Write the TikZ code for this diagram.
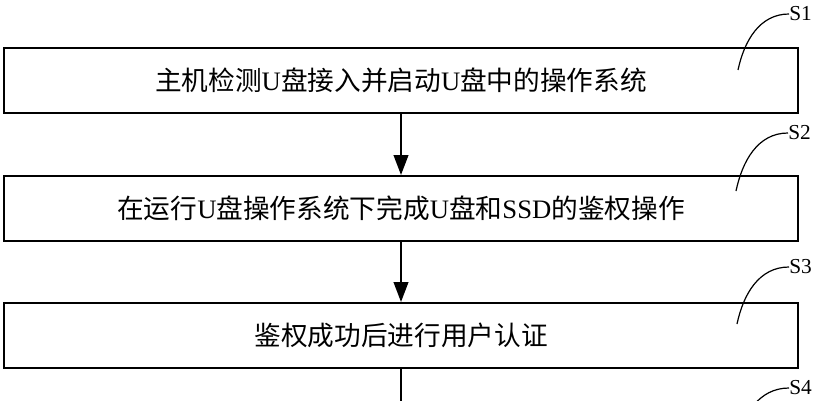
\documentclass[tikz,border=0pt]{standalone}
\usepackage{fontspec}
\setmainfont{Liberation Serif}
\newfontfamily\cjk{Noto Sans CJK SC}
\usetikzlibrary{arrows.meta}
\tikzset{%
	block/.style    = {draw, line width=1.5pt, rectangle, minimum height = 48.75pt,
		minimum width = 595.5pt, font=\fontsize{20}{24}\selectfont}, % Step box
	steplabel/.style = {anchor=west, inner sep=0pt, font=\fontsize{16}{18}\selectfont}, % S-label
	flow/.style     = {line width=1.5pt, -{Triangle[length=15pt,width=11pt]}}, % Arrow
	lead/.style     = {line width=0.9pt} % Leader line
}

\begin{document}
\begin{tikzpicture}[x=0.75pt,y=-0.75pt]
			\useasboundingbox (0,0) rectangle (816,400);
			\node[block] (detect) at (401,80.5) {{\cjk 主机检测}U{\cjk 盘接入并启动}U{\cjk 盘中的操作系统}};
			\node[block] (auth) at (401,208.5) {{\cjk 在运行}U{\cjk 盘操作系统下完成}U{\cjk 盘和}SSD{\cjk 的鉴权操作}};
			\node[block] (user) at (401,335.5) {\cjk 鉴权成功后进行用户认证};
			\coordinate (next) at (401,425);

			\draw[flow] (detect) -- (auth);
			\draw[flow] (auth) -- (user);
			\draw[flow] (user) -- (next);

			% step labels
			\node[steplabel] (s1) at (789,14) {S1};
			\node[steplabel] (s2) at (788,133) {S2};
			\node[steplabel] (s3) at (789,267) {S3};
			\node[steplabel] (s4) at (789,388) {S4};
			\coordinate (t1) at (738,70);
			\coordinate (t2) at (736,191);
			\coordinate (t3) at (737,324);
			\coordinate (t4) at (736,445);
			\draw[lead] (s1.west) to[out=180,in=78] (t1);
			\draw[lead] (s2.west) to[out=180,in=78] (t2);
			\draw[lead] (s3.west) to[out=180,in=78] (t3);
			\draw[lead] (s4.west) to[out=180,in=78] (t4);
		\end{tikzpicture}
\end{document}
